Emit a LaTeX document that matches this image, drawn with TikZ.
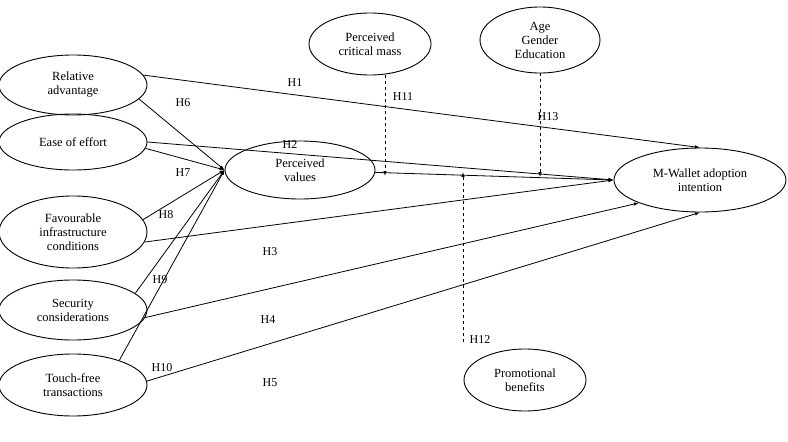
\documentclass[tikz,border=0pt]{standalone}
\usepackage{fontspec}
\setmainfont{Liberation Serif}
\usetikzlibrary{arrows.meta, positioning, shapes.geometric}

\begin{document}
\begin{tikzpicture}[
    x=1pt, y=-1pt,
    >=Latex,
    arrow/.style={-{Latex[length=5pt,width=3.5pt]}, line width=0.8pt},
    dasharrow/.style={arrow, dashed},
    construct/.style={ellipse, draw, line width=0.9pt, align=center, font=\fontsize{12.5}{14}\selectfont, inner sep=0pt},
    lab/.style={font=\fontsize{12}{14}\selectfont},
]
\useasboundingbox (0,0) rectangle (788,442);

% ---------- Constructs ----------
\node[construct, minimum width=148, minimum height=60] (ra) at (73,85) {Relative\\advantage};
\node[construct, minimum width=148, minimum height=56] (ee) at (73,142) {Ease of effort};
\node[construct, minimum width=148, minimum height=72] (fi) at (73,232) {Favourable\\infrastructure\\conditions};
\node[construct, minimum width=148, minimum height=60] (sc) at (73,310) {Security\\considerations};
\node[construct, minimum width=148, minimum height=62] (tf) at (73,385) {Touch-free\\transactions};
\node[construct, minimum width=150, minimum height=58] (pv) at (300,170) {Perceived\\values};
\node[construct, minimum width=122, minimum height=62] (pcm) at (370,44) {Perceived\\critical mass};
\node[construct, minimum width=120, minimum height=66] (age) at (540,40) {Age\\Gender\\Education};
\node[construct, minimum width=172, minimum height=64] (mw) at (700,180) {M-Wallet adoption\\intention};
\node[construct, minimum width=122, minimum height=62] (pb) at (525,380) {Promotional\\benefits};

% ---------- Moderator targets ----------
\coordinate (t11) at (385,176);
\coordinate (t13) at (540,177);
\coordinate (t12) at (463,172);

% ---------- Paths to perceived values ----------
\foreach \src/\a in {ra/-12,ee/-5,fi/10,sc/15,tf/28}{
  \draw[arrow] (\src.\a) -- (pv.west);
}

% ---------- Direct paths ----------
\draw[arrow] (ra.8) -- (mw.north);
\draw[arrow] (ee.east) -- (mw.west);
\draw[arrow] (fi.-8) -- (mw.west);
\draw[arrow] (sc.-6) -- (mw.south west);
\draw[arrow] (tf.3) -- (mw.south);
\draw[arrow] (pv) -- (mw.west);

% ---------- Moderators ----------
\draw[dasharrow] (pcm.south -| t11) -- (t11);
\draw[dasharrow] (age) -- (t13);
\draw[dasharrow] ([yshift=7pt]pb.north -| t12) -- (t12);

% ---------- Labels ----------
\foreach \x/\y/\t in {295/83/H1, 290/145/H2, 270/252/H3, 268/320/H4, 270/383/H5,
  183/103/H6, 183/173/H7, 166/215/H8, 160/280/H9, 162/368/H10,
  403/97/H11, 480/340/H12, 548/117/H13}{
  \node[lab] at (\x,\y) {\t};
}

\end{tikzpicture}
\end{document}
